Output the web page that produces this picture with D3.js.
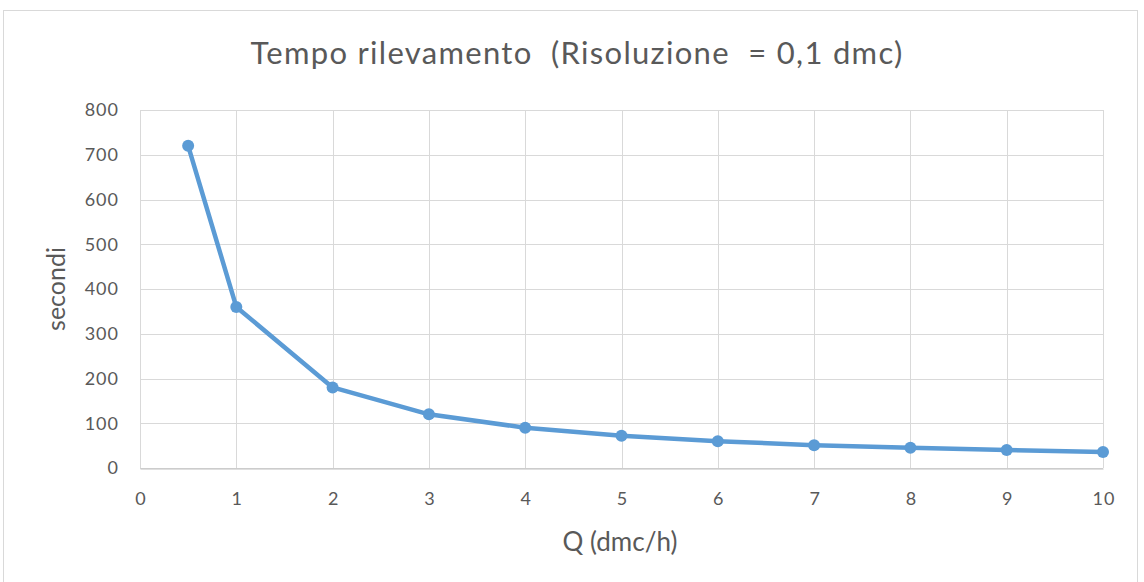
<!DOCTYPE html>
<html>
<head>
<meta charset="utf-8">
<script src="https://cdn.jsdelivr.net/npm/d3@7"></script>
<style>
  body { margin: 0; background: #fff; }
  text { font-family: Lato, "Open Sans", sans-serif; fill: #595959; white-space: pre; }
</style>
</head>
<body>
<svg width="1144" height="582"></svg>
<script>
"use strict";
// values
var qValues = [0.5, 1, 2, 3, 4, 5, 6, 7, 8, 9, 10];
var secondi = [720, 360, 180, 120, 90, 72, 60, 51, 45, 40, 36];
var xTicks = [0, 1, 2, 3, 4, 5, 6, 7, 8, 9, 10];
var yTicks = [0, 100, 200, 300, 400, 500, 600, 700, 800];

var points = qValues.map((q, i) => ({q: q, s: secondi[i]}));

var svg = d3.select("svg");
var plotLeft = 140, plotRight = 1103, plotTop = 110, plotBottom = 468;

var x = d3.scaleLinear().domain([0, 10]).range([plotLeft, plotRight]);
var y = d3.scaleLinear().domain([0, 800]).range([plotBottom, plotTop]);

// chart border
svg.append("rect")
  .attr("x", 3.5).attr("y", 10.5)
  .attr("width", 1134).attr("height", 580)
  .attr("fill", "#fff")
  .attr("stroke", "#d9d9d9");

// gridlines
var grid = svg.append("g").attr("stroke", "#d9d9d9").attr("stroke-width", 1);
grid.selectAll("line.h")
  .data(yTicks)
  .enter()
  .append("line")
  .attr("x1", plotLeft).attr("x2", plotRight)
  .attr("y1", d => Math.round(y(d)) + 0.5)
  .attr("y2", d => Math.round(y(d)) + 0.5);
grid.selectAll("line.v")
  .data(xTicks)
  .enter()
  .append("line")
  .attr("y1", plotTop).attr("y2", plotBottom)
  .attr("x1", d => Math.round(x(d)) + 0.5)
  .attr("x2", d => Math.round(x(d)) + 0.5);

// axes
var xAxis = svg.append("g")
  .attr("transform", "translate(0," + (Math.round(plotBottom) + 0.5) + ")")
  .call(d3.axisBottom(x).tickValues(xTicks).tickSize(0).tickPadding(24));
xAxis.select(".domain").attr("stroke", "#bfbfbf");
xAxis.selectAll("text")
  .style("font-size", "18px")
  .style("letter-spacing", "1px")
  .attr("dx", "0.5")
  .attr("fill", "#595959");

var yAxis = svg.append("g")
  .attr("transform", "translate(119,0)")
  .call(d3.axisLeft(y).tickValues(yTicks).tickSize(0).tickPadding(0));
yAxis.select(".domain").remove();
yAxis.selectAll("text")
  .style("font-size", "18px")
  .style("letter-spacing", "1px")
  .attr("fill", "#595959");

// line and markers
var line = d3.line().x(d => x(d.q)).y(d => y(d.s));
svg.append("path")
  .datum(points)
  .attr("d", line)
  .attr("fill", "none")
  .attr("stroke", "#5b9bd5")
  .attr("stroke-width", 4.5)
  .attr("stroke-linejoin", "round");
svg.append("g").selectAll("circle")
  .data(points)
  .enter()
  .append("circle")
  .attr("cx", d => x(d.q))
  .attr("cy", d => y(d.s))
  .attr("r", 6)
  .attr("fill", "#5b9bd5");

// titles
svg.append("text")
  .attr("x", 577).attr("y", 64)
  .attr("text-anchor", "middle")
  .style("font-size", "31px")
  .style("letter-spacing", "1.3px")
  .text("Tempo rilevamento  (Risoluzione  = 0,1 dmc)");
svg.append("text")
  .attr("x", 620).attr("y", 551)
  .attr("text-anchor", "middle")
  .style("font-size", "26px")
  .text("Q (dmc/h)");
svg.append("text")
  .attr("transform", "translate(65,289) rotate(-90)")
  .attr("text-anchor", "middle")
  .style("font-size", "25px")
  .text("secondi");
</script>
</body>
</html>
